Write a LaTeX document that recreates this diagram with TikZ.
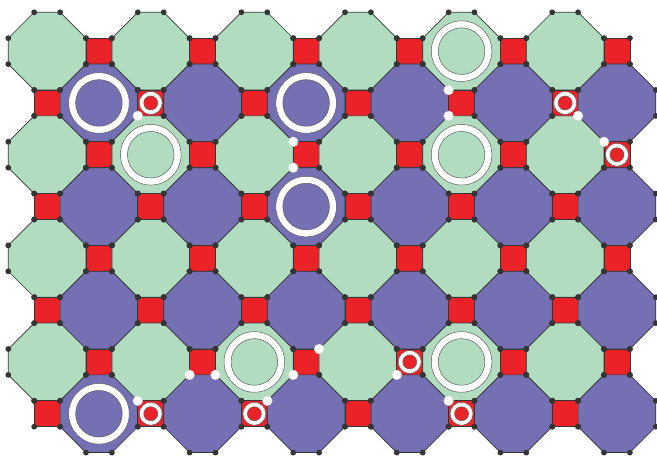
\documentclass[tikz,border=0pt]{standalone}
\definecolor{tgreen}{HTML}{B1DCC0}
\definecolor{tpurple}{HTML}{7570B3}
\definecolor{tred}{HTML}{EC2229}
\definecolor{tdot}{HTML}{353535}
\begin{document}
\begin{tikzpicture}[x=1pt,y=-1pt,
  edge/.style={draw=tdot, line width=0.7pt, line join=miter},
  vdot/.style={fill=tdot},
  wdot/.style={fill=white, draw=gray!50, line width=0.2pt},
  ringline/.style={draw=tdot!80, line width=0.5pt}]
\useasboundingbox (0,0) rectangle (657,457);
\def\hh{12.95}
\def\cel{51.8}
\def\xo{47.15}
\def\yo{51.15}
% tiles
\foreach \j in {0,...,7}{
  \foreach \i in {0,...,11}{
    \pgfmathsetmacro\X{\xo+\cel*\i}
    \pgfmathsetmacro\Y{\yo+\cel*\j}
    \pgfmathtruncatemacro\pp{mod(\i+\j,2)}
    \begin{scope}[shift={(\X,\Y)}]
    \ifnum\pp=0
      \ifodd\j \def\oc{tpurple}\else \def\oc{tgreen}\fi
      \filldraw[edge, fill=\oc] (-12.95,-38.85) -- (12.95,-38.85) -- (38.85,-12.95) -- (38.85,12.95)
        -- (12.95,38.85) -- (-12.95,38.85) -- (-38.85,12.95) -- (-38.85,-12.95) -- cycle;
    \else
      \filldraw[edge, fill=tred] (-12.95,-12.95) rectangle (12.95,12.95);
    \fi
    \end{scope}
  }}
% vertex dots
\foreach \j in {0,...,7}{
  \foreach \i in {0,...,11}{
    \pgfmathsetmacro\X{\xo+\cel*\i}
    \pgfmathsetmacro\Y{\yo+\cel*\j}
    \pgfmathtruncatemacro\pp{mod(\i+\j,2)}
    \begin{scope}[shift={(\X,\Y)}]
    \ifnum\pp=0
      \foreach \p in {(-12.95,-38.85),(12.95,-38.85),(38.85,-12.95),(38.85,12.95),
        (12.95,38.85),(-12.95,38.85),(-38.85,12.95),(-38.85,-12.95)}
        {\fill[vdot] \p circle (2.9);}
    \else
      \foreach \p in {(-12.95,-12.95),(12.95,-12.95),(12.95,12.95),(-12.95,12.95)}
        {\fill[vdot] \p circle (2.9);}
    \fi
    \end{scope}
  }}
% big rings in octagons
\foreach \i/\j/\oc in {1/1/tpurple,5/1/tpurple,5/3/tpurple,1/7/tpurple,
    2/2/tgreen,8/0/tgreen,8/2/tgreen,4/6/tgreen,8/6/tgreen}{
  \filldraw[ringline, fill=white] ({\xo+\cel*\i},{\yo+\cel*\j}) circle (30.3);
  \filldraw[ringline, fill=\oc] ({\xo+\cel*\i},{\yo+\cel*\j}) circle (23.3);
}
% small rings in squares
\foreach \i/\j in {2/1,10/1,11/2,7/6,2/7,4/7,8/7}{
  \filldraw[ringline, fill=white] ({\xo+\cel*\i},{\yo+\cel*\j}) circle (11.5);
  \filldraw[ringline, fill=tred] ({\xo+\cel*\i},{\yo+\cel*\j}) circle (7);
}
% white vertex dots
\foreach \i/\j/\dx/\dy in {2/1/-1/1, 5/2/-1/-1, 5/2/-1/1, 8/1/-1/-1, 8/1/-1/1,
    10/1/1/1, 11/2/-1/-1, 2/7/-1/-1, 3/6/-1/1, 3/6/1/1, 4/7/1/-1,
    5/6/-1/1, 5/6/1/-1, 7/6/-1/1, 8/7/-1/-1}{
  \filldraw[wdot] ({\xo+\cel*\i+\dx*\hh},{\yo+\cel*\j+\dy*\hh}) circle (5);
}
\end{tikzpicture}
\end{document}
